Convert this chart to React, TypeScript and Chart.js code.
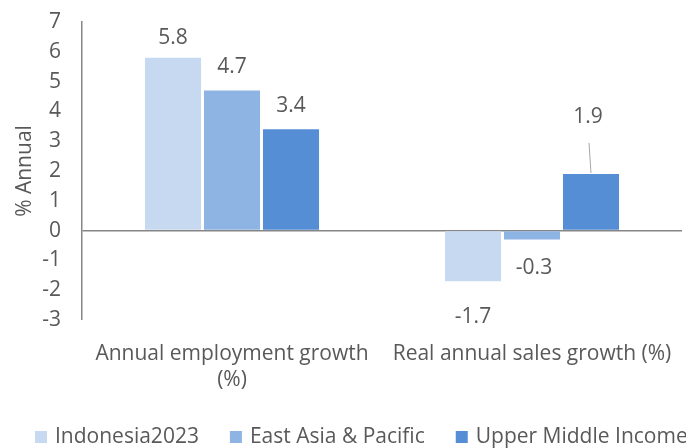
import React, { useEffect, useRef } from "react";
import { Chart, registerables } from "chart.js";

Chart.register(...registerables);

const categories: (string | string[])[] = [
  ["Annual employment growth", "(%)"],
  "Real annual sales growth (%)",
];
const seriesNames = ["Indonesia2023", "East Asia & Pacific", "Upper Middle Income"];
const indonesia2023 = [5.8, -1.7];
const eastAsiaPacific = [4.7, -0.3];
const upperMiddleIncome = [3.4, 1.9];
const yTicks = { min: -3, max: 7, step: 1 };
const yTitle = "% Annual";

const colors = ["#C6D9F1", "#8EB4E3", "#558ED5"];
const FONT = "'Open Sans'";
const FS = 21;
const TEXT = "#595959";
// label offsets (style only): [dx, dy] relative to bar end
const labelOffsets = [
  [[0, -20], [0, 36]],
  [[0, -24], [2, 28]],
  [[0, -23], [-3, -57]],
];

const labelsPlugin = {
  id: "valueLabels",
  afterDatasetsDraw(chart: any) {
    const ctx = chart.ctx;
    ctx.save();
    ctx.font = `${FS}px ${FONT}`;
    ctx.fillStyle = TEXT;
    ctx.textAlign = "center";
    ctx.textBaseline = "middle";
    chart.data.datasets.forEach((ds: any, di: number) => {
      const meta = chart.getDatasetMeta(di);
      meta.data.forEach((bar: any, i: number) => {
        const [dx, dy] = labelOffsets[di][i];
        const lx = bar.x + dx;
        const ly = bar.y + dy;
        ctx.fillText(ds.data[i].toFixed(1), lx, ly);
        if (Math.abs(dy) > 45) {
          ctx.beginPath();
          ctx.strokeStyle = "#A6A6A6";
          ctx.lineWidth = 1;
          ctx.moveTo(lx + 1, ly + 26);
          ctx.lineTo(bar.x, bar.y - 1);
          ctx.stroke();
        }
      });
    });
    ctx.restore();
  },
};

const legendPlugin = {
  id: "customLegend",
  afterDraw(chart: any) {
    const ctx = chart.ctx;
    ctx.save();
    ctx.font = `${FS}px ${FONT}`;
    ctx.textBaseline = "middle";
    ctx.textAlign = "left";
    let x = 35;
    const yc = 437;
    chart.data.datasets.forEach((ds: any) => {
      ctx.fillStyle = ds.backgroundColor;
      ctx.fillRect(x, yc - 6, 12, 12);
      ctx.fillStyle = TEXT;
      ctx.fillText(ds.label, x + 20, yc);
      x += 20 + ctx.measureText(ds.label).width + 31;
    });
    ctx.restore();
  },
};

export default function App() {
  const ref = useRef<HTMLCanvasElement | null>(null);
  useEffect(() => {
    if (!ref.current) return;
    const values = [indonesia2023, eastAsiaPacific, upperMiddleIncome];
    const chart = new Chart(ref.current, {
      type: "bar",
      data: {
        labels: categories,
        datasets: seriesNames.map((n, i) => ({
          label: n,
          data: values[i],
          backgroundColor: colors[i],
          categoryPercentage: 0.59,
          barPercentage: 0.95,
        })),
      },
      options: {
        responsive: false,
        animation: false,
        layout: { padding: { left: 0, right: 4, top: 22, bottom: 0 } },
        plugins: { legend: { display: false }, tooltip: { enabled: false } },
        scales: {
          x: {
            grid: { display: false, drawTicks: false },
            border: { display: false },
            ticks: {
              color: TEXT,
              font: { family: FONT, size: FS, lineHeight: 1.25 },
              padding: 21,
              maxRotation: 0,
            },
            afterFit(scale: any) {
              scale.height = 128;
              scale.paddingLeft = 0;
              scale.paddingRight = 0;
            },
          },
          y: {
            min: yTicks.min,
            max: yTicks.max,
            ticks: {
              stepSize: yTicks.step,
              color: TEXT,
              font: { family: FONT, size: FS },
              padding: 21,
            },
            grid: {
              drawTicks: false,
              color: (c: any) => (c.tick && c.tick.value === 0 ? "#868686" : "rgba(0,0,0,0)"),
              lineWidth: (c: any) => (c.tick && c.tick.value === 0 ? 1.5 : 0),
            },
            border: { display: true, color: "#868686", width: 1.5 },
            title: {
              display: true,
              text: yTitle,
              color: TEXT,
              font: { family: FONT, size: FS },
              padding: { top: 12, bottom: 0 },
            },
            afterFit(scale: any) {
              scale.width = 82;
              scale.paddingTop = 0;
              scale.paddingBottom = 0;
            },
          },
        },
      },
      plugins: [labelsPlugin, legendPlugin],
    });
    return () => chart.destroy();
  }, []);
  return (
    <div style={{ position: "absolute", left: 0, top: 0, width: 686, height: 448, background: "#fff" }}>
      <canvas ref={ref} width={686} height={448} />
    </div>
  );
}
